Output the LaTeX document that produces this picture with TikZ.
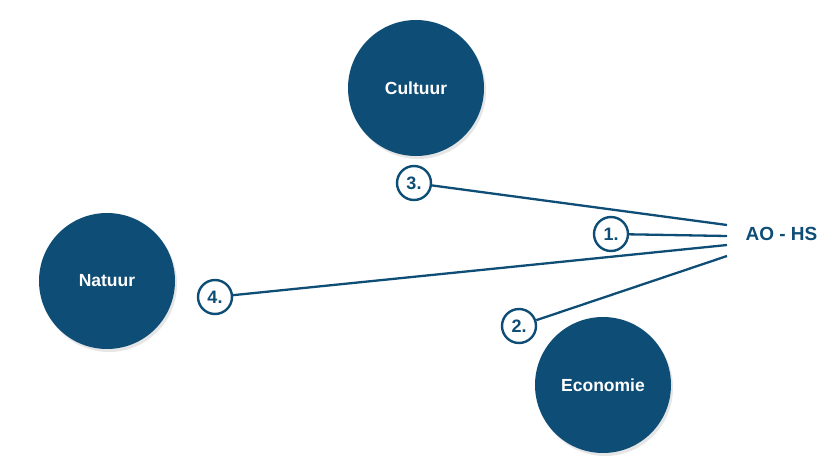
\documentclass[tikz,border=0pt]{standalone}
\usepackage{fontspec}
\setmainfont{Liberation Sans}
\usepackage{xcolor}
\usetikzlibrary{shadows,positioning}
\definecolor{aoblue}{RGB}{14,77,118}

\begin{document}
\begin{tikzpicture}[x=1pt, y=-1pt, font=\bfseries,
		bigcircle/.style={circle, fill=aoblue, minimum size=136pt, inner sep=0pt, text=white,
			font=\fontsize{17.5}{20}\selectfont\bfseries,
			drop shadow={opacity=0.2, shadow xshift=2pt, shadow yshift=-3pt}},
		numcircle/.style={circle, draw=aoblue, line width=2.4pt, fill=white, minimum size=34pt, inner sep=0pt,
			text=aoblue, font=\fontsize{18}{20}\selectfont\bfseries},
		link/.style={draw=aoblue, line width=2.3pt}]
		\useasboundingbox (0,0) rectangle (838,463);
		% Main themes
		\node[bigcircle] (cultuur) at (416,88) {Cultuur};
		\node[bigcircle] (natuur) at (107,281) {Natuur};
		\node[bigcircle] (economie) at (603,385) {Economie};
		% Centre label and its line ends
		\node[text=aoblue, font=\fontsize{19}{21}\selectfont\bfseries, anchor=west] (aohs) at (742,234) {AO - HS};
		\coordinate (h3) at (727,225);
		\coordinate (h1) at (727,236);
		\coordinate (h4) at (727,245);
		\coordinate (h2) at (727,256);
		% Numbered links
		\node[numcircle] (n3) at (414,183) {3.};
		\node[numcircle] (n1) at (611,234) {1.};
		\node[numcircle] (n4) at (215,297) {4.};
		\node[numcircle] (n2) at (519,326) {2.};
		\draw[link] (n3) -- (h3);
		\draw[link] (n1) -- (h1);
		\draw[link] (n4) -- (h4);
		\draw[link] (n2) -- (h2);
	\end{tikzpicture}
\end{document}
